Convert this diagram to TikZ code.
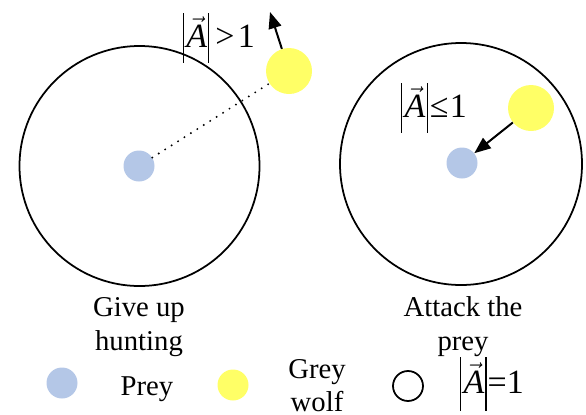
\documentclass[tikz,border=0pt]{standalone}
\usepackage{fontspec}
\setmainfont{Liberation Serif}
\usetikzlibrary{arrows.meta}
\newcommand\myabsA[2]{\vrule width 0.9pt height #1 depth #2\kern2pt$\vec{\hbox{\itshape A}}$\kern1pt\vrule width 0.9pt height #1 depth #2}
\begin{document}
\begin{tikzpicture}[x=0.03cm,y=-0.03cm,
  preyc/.style={circle,fill=preyblue,minimum size=31*0.03cm,inner sep=0},
  wolfc/.style={circle,fill=wolfyellow,minimum size=46*0.03cm,inner sep=0},
  ring/.style={circle,draw,line width=1.5pt,inner sep=0},
  lbl/.style={font=\fontsize{24.5}{29}\selectfont,inner sep=0,anchor=base},
  mlbl/.style={font=\fontsize{29}{32}\selectfont,inner sep=0,anchor=base},
  arr/.style={-{Triangle[length=14pt,width=11pt]},line width=1.7pt}]
\definecolor{preyblue}{RGB}{180,199,231}
\definecolor{wolfyellow}{RGB}{255,255,102}
\useasboundingbox (0,0) rectangle (586,414);
% left scene
\node[ring,minimum size=240*0.03cm] (c1) at (139.5,166) {};
\node[preyc] (p1) at (139,166) {};
\node[wolfc] (w1) at (289,71) {};
\draw[line width=1.8pt,line cap=round,dash pattern=on 0pt off 6.5pt] (p1) -- (w1);
\coordinate (t1) at (270,12);
\draw[arr] (w1) -- (t1);
\node[mlbl] (m1) at (219,47) {\myabsA{29pt}{13.5pt}\kern5pt>\kern3pt1};
\node[lbl] (g1a) at (139,316) {Give up};
\node[lbl] (g1b) at (139,350) {hunting};
% right scene
\node[ring,minimum size=242*0.03cm] (c2) at (461,164) {};
\node[preyc] (p2) at (462,163) {};
\node[wolfc] (w2) at (531,108) {};
\draw[arr] (w2) -- (p2);
\node[mlbl] (m2) at (434,117) {\myabsA{29pt}{13.5pt}\kern2pt≤\kern1pt1};
\node[lbl] (g2a) at (463,316) {Attack the};
\node[lbl] (g2b) at (463,350) {prey};
% legend
\node[preyc,minimum size=31*0.03cm] (lp) at (62,383) {};
\node[lbl] (lpt) at (147,395) {Prey};
\node[wolfc,minimum size=31*0.03cm] (lw) at (233,385) {};
\node[lbl] (lwt1) at (317,378) {Grey};
\node[lbl] (lwt2) at (317,411) {wolf};
\node[ring,minimum size=30*0.03cm] (lc) at (408,386) {};
\node[mlbl] (lct) at (492,393) {\myabsA{31pt}{15pt}\kern1pt=1};
\end{tikzpicture}
\end{document}
